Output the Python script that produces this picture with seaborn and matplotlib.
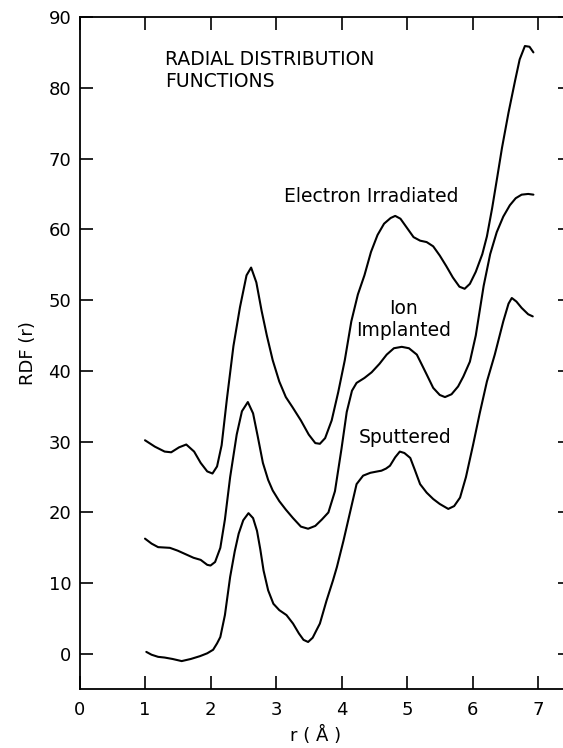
import matplotlib
matplotlib.use("Agg")
import matplotlib.pyplot as plt
import seaborn as sns
import pandas as pd

# ---- data ----
electron_r = [1.00, 1.15, 1.30, 1.40, 1.52, 1.63, 1.75, 1.85, 1.95, 2.03, 2.10, 2.17, 2.25, 2.35, 2.45,
              2.55, 2.62, 2.70, 2.78, 2.86, 2.95, 3.05, 3.15, 3.25, 3.38, 3.50, 3.60, 3.67, 3.75, 3.85,
              3.95, 4.05, 4.15, 4.25, 4.35, 4.45, 4.55, 4.65, 4.75, 4.82, 4.90, 5.00, 5.10, 5.20, 5.30,
              5.40, 5.50, 5.60, 5.70, 5.80, 5.88, 5.96, 6.05, 6.15, 6.22, 6.30, 6.38, 6.45, 6.55, 6.65,
              6.72, 6.80, 6.87, 6.93]
electron_v = [30.2, 29.3, 28.6, 28.5, 29.2, 29.6, 28.6, 27.0, 25.8, 25.5, 26.5, 29.5, 36.0, 43.5, 49.0,
              53.5, 54.6, 52.5, 48.5, 45.0, 41.5, 38.5, 36.3, 34.9, 33.0, 31.0, 29.8, 29.7, 30.5, 33.0,
              37.0, 41.5, 47.0, 50.8, 53.5, 56.8, 59.2, 60.8, 61.6, 61.9, 61.5, 60.2, 58.9, 58.4, 58.2,
              57.6, 56.3, 54.8, 53.2, 51.9, 51.6, 52.3, 54.0, 56.5, 59.0, 63.0, 67.5, 71.5, 76.5, 81.0,
              84.0, 85.9, 85.8, 85.0]

ion_r = [1.00, 1.10, 1.20, 1.38, 1.50, 1.62, 1.74, 1.85, 1.95, 2.00, 2.07, 2.15, 2.22, 2.30, 2.40,
         2.48, 2.57, 2.65, 2.72, 2.80, 2.88, 2.95, 3.05, 3.15, 3.26, 3.38, 3.49, 3.60, 3.70, 3.80,
         3.90, 4.00, 4.08, 4.16, 4.23, 4.35, 4.46, 4.58, 4.69, 4.80, 4.92, 5.03, 5.15, 5.22, 5.30,
         5.40, 5.50, 5.58, 5.68, 5.78, 5.86, 5.96, 6.05, 6.17, 6.27, 6.37, 6.47, 6.57, 6.66, 6.75,
         6.85, 6.93]
ion_v = [16.3, 15.6, 15.1, 15.0, 14.6, 14.1, 13.6, 13.3, 12.6, 12.5, 13.0, 15.0, 19.0, 25.0, 31.0,
         34.3, 35.6, 34.0, 30.8, 27.0, 24.6, 23.1, 21.6, 20.4, 19.2, 18.0, 17.7, 18.1, 19.0, 20.0,
         23.0, 29.0, 34.2, 37.2, 38.3, 39.0, 39.8, 41.0, 42.3, 43.2, 43.4, 43.2, 42.3, 41.0, 39.5,
         37.6, 36.6, 36.3, 36.7, 37.8, 39.2, 41.3, 45.0, 52.0, 56.5, 59.6, 61.8, 63.4, 64.4, 64.9,
         65.0, 64.9]

sputter_r = [1.02, 1.10, 1.20, 1.30, 1.42, 1.56, 1.70, 1.84, 1.95, 2.04, 2.10, 2.15, 2.22, 2.30, 2.37,
             2.43, 2.50, 2.58, 2.65, 2.71, 2.76, 2.81, 2.88, 2.96, 3.05, 3.16, 3.26, 3.35, 3.42, 3.49,
             3.56, 3.62, 3.67, 3.77, 3.87, 3.93, 4.03, 4.13, 4.23, 4.33, 4.44, 4.55, 4.61, 4.68, 4.74,
             4.82, 4.89, 4.96, 5.05, 5.12, 5.20, 5.30, 5.40, 5.50, 5.63, 5.72, 5.81, 5.90, 6.01, 6.11,
             6.22, 6.34, 6.47, 6.55, 6.60, 6.67, 6.75, 6.85, 6.92]
sputter_v = [0.3, -0.1, -0.4, -0.5, -0.7, -1.0, -0.7, -0.3, 0.1, 0.6, 1.5, 2.4, 5.5, 10.9, 14.5,
             17.0, 18.9, 19.9, 19.2, 17.4, 14.8, 11.8, 9.0, 7.1, 6.2, 5.5, 4.3, 2.9, 2.0, 1.7,
             2.3, 3.4, 4.3, 7.5, 10.4, 12.3, 16.0, 20.0, 24.0, 25.2, 25.6, 25.8, 25.9, 26.2, 26.6,
             27.8, 28.6, 28.4, 27.7, 26.0, 24.0, 22.8, 21.9, 21.2, 20.5, 20.9, 22.1, 25.0, 29.6, 34.0,
             38.5, 42.3, 47.0, 49.5, 50.3, 49.8, 48.9, 48.0, 47.7]

x_ticks = [0, 1, 2, 3, 4, 5, 6, 7]
y_ticks = [0, 10, 20, 30, 40, 50, 60, 70, 80, 90]

# ---- styling ----
sns.set_theme(style="ticks")
plt.rcParams["font.family"] = ["DejaVu Sans"]

fig = plt.figure(figsize=(5.63, 7.48), dpi=100)
ax = fig.add_axes([79.5 / 563, 58.6 / 748, (570.75 - 79.5) / 563, 672.4 / 748])

for r, v in [(electron_r, electron_v), (ion_r, ion_v), (sputter_r, sputter_v)]:
    df = pd.DataFrame({"r": r, "v": v})
    sns.lineplot(data=df, x="r", y="v", ax=ax, color="black", linewidth=1.5,
                 sort=False, estimator=None)

ax.set_xlim(0, 7.5)
ax.set_ylim(-5, 90)
ax.set_xticks(x_ticks)
ax.set_xticklabels([str(t) for t in x_ticks])
ax.set_yticks(y_ticks)
ax.set_yticklabels([str(t) for t in y_ticks])

for s in ax.spines.values():
    s.set_visible(True)
    s.set_linewidth(1.3)
    s.set_color("black")

ax.tick_params(axis="both", which="both", direction="in", length=9.5, width=1.2,
               top=True, right=True, labeltop=False, labelright=False,
               labelsize=13, colors="black")
ax.tick_params(axis="x", pad=8)
ax.tick_params(axis="y", pad=6)

ax.set_xlabel("r ( Å )", fontsize=13, color="black")
ax.xaxis.set_label_coords((316 - 79.5) / (570.75 - 79.5), -0.055)
ax.set_ylabel("RDF (r)", fontsize=13, color="black", labelpad=8)

ax.text(1.3, 85.3, "RADIAL DISTRIBUTION\nFUNCTIONS", fontsize=13.5,
        ha="left", va="top", linespacing=1.15, color="black")
ax.text(4.45, 64.6, "Electron Irradiated", fontsize=13.5, ha="center", va="center", color="black")
ax.text(4.95, 47.2, "Ion\nImplanted", fontsize=13.5, ha="center", va="center",
        linespacing=1.2, color="black")
ax.text(4.97, 30.6, "Sputtered", fontsize=13.5, ha="center", va="center", color="black")

fig.savefig("out.png", dpi=100)
